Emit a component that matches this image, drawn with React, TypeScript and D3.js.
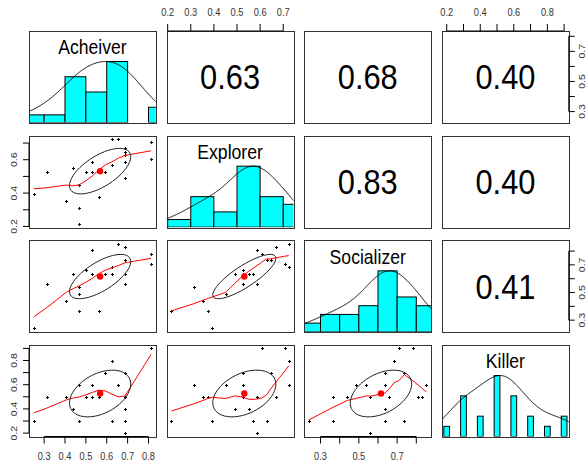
import * as d3 from 'd3';

// 22 respondents, values
const acheiver = [0.25, 0.3125, 0.40625, 0.4375, 0.46875, 0.46875, 0.46875, 0.5, 0.53125, 0.53125, 0.5625,
  0.59375, 0.625, 0.625, 0.65625, 0.6875, 0.6875, 0.6875, 0.6875, 0.8125, 0.8125, 0.6875];
const explorer = [0.393, 0.525, 0.353, 0.55, 0.451, 0.313, 0.216, 0.525, 0.588, 0.528, 0.374,
  0.528, 0.724, 0.569, 0.724, 0.67, 0.628, 0.588, 0.49, 0.707, 0.607, 0.645];
const socializer = [0.24, 0.56, 0.439, 0.637, 0.487, 0.54, 0.365, 0.66, 0.81, 0.637, 0.365,
  0.637, 0.684, 0.637, 0.853, 0.828, 0.738, 0.56, 0.637, 0.709, 0.781, 0.738];
const killer = [0.3, 0.5, 0.5, 0.4, 0.6, 0.6, 0.3, 0.5, 0.5, 0.6, 0.5,
  0.7, 0.8, 0.3, 0.6, 0.5, 0.3, 0.2, 0.4, 0.9, 0.9, 0.7];

const varNames = ['Acheiver', 'Explorer', 'Socializer', 'Killer'];
// upper triangle, row by row
const correlations = [0.63, 0.68, 0.40, 0.83, 0.40, 0.41];

const acheiverTicks = [0.3, 0.4, 0.5, 0.6, 0.7, 0.8];
const explorerTicks = [0.2, 0.3, 0.4, 0.5, 0.6, 0.7];
const socializerTicks = [0.3, 0.4, 0.5, 0.6, 0.7, 0.8];
const killerTicks = [0.2, 0.3, 0.4, 0.5, 0.6, 0.7, 0.8, 0.9];

const acheiverBottomLabels = ['0.3', '0.4', '0.5', '0.6', '0.7', '0.8'];
const acheiverRightLabels = ['0.3', '0.5', '0.7'];
const explorerTopLabels = ['0.2', '0.3', '0.4', '0.5', '0.6', '0.7'];
const explorerLeftLabels = ['0.2', '0.4', '0.6'];
const socializerBottomLabels = ['0.3', '0.5', '0.7'];
const socializerRightLabels = ['0.3', '0.5', '0.7'];
const killerTopLabels = ['0.2', '0.4', '0.6', '0.8'];
const killerLeftLabels = ['0.2', '0.4', '0.6', '0.8'];

const vars = [acheiver, explorer, socializer, killer];

const W = 588, H = 463;
const PW = 126.8, PH = 91.5;
const colX = (j: number) => 29 + j * 137.67;
const rowY = (i: number) => 31 + i * 104.67;
const FONT = 'Liberation Sans, Arial, sans-serif';
const SX = 0.88; // the reference text is a bit narrow

const padded = (v: number[]) => {
  const [lo, hi] = d3.extent(v) as [number, number];
  const d = (hi - lo) * 0.04;
  return [lo - d, hi + d];
};
const xScale = (k: number, j: number) => d3.scaleLinear().domain(padded(vars[k])).range([colX(j), colX(j) + PW]);
const yScale = (k: number, i: number) => d3.scaleLinear().domain(padded(vars[k])).range([rowY(i) + PH, rowY(i)]);

// R's lowess (clowess)
function lowest(x: number[], y: number[], n: number, xs: number, nleft: number, nright: number,
  w: number[], userw: boolean, rw: number[]) {
  const range = x[n - 1] - x[0];
  const h = Math.max(xs - x[nleft], x[nright] - xs);
  const h9 = 0.999 * h, h1 = 0.001 * h;
  let a = 0;
  let j = nleft;
  while (j < n) {
    w[j] = 0;
    const r = Math.abs(x[j] - xs);
    if (r <= h9) {
      w[j] = r <= h1 ? 1 : Math.pow(1 - Math.pow(r / h, 3), 3);
      if (userw) w[j] *= rw[j];
      a += w[j];
    } else if (x[j] > xs) break;
    j++;
  }
  const nrt = j - 1;
  if (a <= 0) return { ys: 0, ok: false };
  for (j = nleft; j <= nrt; j++) w[j] /= a;
  if (h > 0) {
    a = 0;
    for (j = nleft; j <= nrt; j++) a += w[j] * x[j];
    let b = xs - a;
    let c = 0;
    for (j = nleft; j <= nrt; j++) c += w[j] * (x[j] - a) * (x[j] - a);
    if (Math.sqrt(c) > 0.001 * range) {
      b /= c;
      for (j = nleft; j <= nrt; j++) w[j] *= b * (x[j] - a) + 1;
    }
  }
  let ys = 0;
  for (j = nleft; j <= nrt; j++) ys += w[j] * y[j];
  return { ys, ok: true };
}

function lowess(xIn: number[], yIn: number[], f = 2 / 3, iter = 3) {
  const order = d3.range(xIn.length).sort((a, b) => xIn[a] - xIn[b]);
  const x = order.map(i => xIn[i]);
  const y = order.map(i => yIn[i]);
  const n = x.length;
  const delta = 0.01 * (x[n - 1] - x[0]);
  const ns = Math.max(2, Math.min(n, Math.floor(f * n + 1e-7)));
  const ys = new Array(n).fill(0);
  const rw = new Array(n).fill(1);
  const res = new Array(n).fill(0);
  for (let it = 1; it <= iter + 1; it++) {
    let nleft = 0, nright = ns - 1, last = -1, i = 0;
    for (;;) {
      if (nright < n - 1) {
        const d1 = x[i] - x[nleft], d2 = x[nright + 1] - x[i];
        if (d1 > d2) { nleft++; nright++; continue; }
      }
      const out = lowest(x, y, n, x[i], nleft, nright, res, it > 1, rw);
      ys[i] = out.ok ? out.ys : y[i];
      if (last < i - 1) {
        const denom = x[i] - x[last];
        for (let j = last + 1; j < i; j++) {
          const alpha = (x[j] - x[last]) / denom;
          ys[j] = alpha * ys[i] + (1 - alpha) * ys[last];
        }
      }
      last = i;
      const cut = x[last] + delta;
      for (i = last + 1; i < n; i++) {
        if (x[i] > cut) break;
        if (x[i] === x[last]) { ys[i] = ys[last]; last = i; }
      }
      i = Math.max(last + 1, i - 1);
      if (last >= n - 1) break;
    }
    for (let k = 0; k < n; k++) res[k] = y[k] - ys[k];
    const sc = d3.sum(res, r => Math.abs(r)) / n;
    if (it > iter) break;
    const cmad = 6 * (d3.median(res.map(r => Math.abs(r))) as number);
    if (cmad < 1e-7 * sc) break;
    const c9 = 0.999 * cmad, c1 = 0.001 * cmad;
    for (let k = 0; k < n; k++) {
      const r = Math.abs(res[k]);
      rw[k] = r <= c1 ? 1 : r > c9 ? 0 : Math.pow(1 - (r / cmad) * (r / cmad), 2);
    }
  }
  return x.map((xv, k) => [xv, ys[k]] as [number, number]);
}

function density(v: number[]) {
  const n = v.length;
  const sorted = [...v].sort(d3.ascending);
  const sd = d3.deviation(v) as number;
  const iqr = (d3.quantileSorted(sorted, 0.75) as number) - (d3.quantileSorted(sorted, 0.25) as number);
  let lo = Math.min(sd, iqr / 1.34);
  if (!(lo > 0)) lo = sd;
  const bw = 1.2 * 1.06 * lo * Math.pow(n, -0.2);
  const from = (d3.min(v) as number) - 3 * bw, to = (d3.max(v) as number) + 3 * bw;
  const pts = d3.range(512).map(k => {
    const xx = from + (to - from) * k / 511;
    return [xx, d3.sum(v, xi => Math.exp(-0.5 * ((xx - xi) / bw) ** 2))] as [number, number];
  });
  const m = d3.max(pts, p => p[1]) as number;
  return pts.map(([xx, yy]) => [xx, yy / m] as [number, number]);
}

function histBars(v: number[]) {
  const uniq = Array.from(new Set(v)).sort(d3.ascending);
  if (uniq.length < 11) {
    const counts = uniq.map(u => v.filter(d => d === u).length);
    const mx = d3.max(counts) as number;
    const gaps = d3.pairs(uniq).map(([a, b]) => b - a);
    const ib = (d3.min(gaps) as number) * (uniq.length - 1) / 41;
    return uniq.map((u, k) => ({ x0: u - ib, x1: u + ib, h: counts[k] / mx }));
  }
  const ext = d3.extent(v) as [number, number];
  const [a, b] = d3.nice(ext[0], ext[1], 6);
  const breaks = d3.ticks(a, b, 6);
  const counts = d3.range(breaks.length - 1).map(() => 0);
  v.forEach(d => {
    const k = breaks.findIndex((br, idx) => idx > 0 && d <= br + 1e-9);
    counts[k - 1]++;
  });
  const mx = d3.max(counts) as number;
  return counts.map((c, k) => ({ x0: breaks[k], x1: breaks[k + 1], h: c / mx }));
}

function pearson(a: number[], b: number[]) {
  const ma = d3.mean(a) as number, mb = d3.mean(b) as number;
  let sab = 0, saa = 0, sbb = 0;
  a.forEach((v, i) => { sab += (v - ma) * (b[i] - mb); saa += (v - ma) ** 2; sbb += (b[i] - mb) ** 2; });
  return sab / Math.sqrt(saa * sbb);
}

const Txt = ({ x, y, size, anchor = 'middle', rotate = false, fill = '#000', children }: any) => (
  <text transform={`translate(${x},${y}) ${rotate ? `rotate(-90) scale(1,${SX})` : `scale(${SX},1)`}`}
    fontFamily={FONT} fontSize={size} textAnchor={anchor} fill={fill}>{children}</text>
);

function Diag({ k }: { k: number }) {
  const v = vars[k];
  const x = xScale(k, k);
  const y = d3.scaleLinear().domain([0, 1.5]).range([rowY(k) + PH, rowY(k)]);
  const bars = histBars(v);
  const dens = density(v);
  const line = d3.line<[number, number]>().x(d => x(d[0])).y(d => y(d[1]));
  return (
    <g>
      <g clipPath={`url(#clip${k}${k})`}>
        {bars.map((b, n) => b.h > 0 && (
          <rect key={n} x={x(b.x0)} y={y(b.h)} width={x(b.x1) - x(b.x0)} height={y(0) - y(b.h)}
            fill="#00ffff" stroke="#000" strokeWidth={1} />
        ))}
        <path d={line(dens) as string} fill="none" stroke="#000" strokeWidth={1} />
      </g>
      <Txt x={colX(k) + PW / 2} y={rowY(k) + PH * 0.18 + 7} size={20}>{varNames[k]}</Txt>
    </g>
  );
}

function Scatter({ i, j }: { i: number, j: number }) {
  const xv = vars[j], yv = vars[i];
  const x = xScale(j, j), y = yScale(i, i);
  const smooth = lowess(xv, yv);
  const line = d3.line<[number, number]>().x(d => x(d[0])).y(d => y(d[1]));
  const xm = d3.mean(xv) as number, ym = d3.mean(yv) as number;
  const xs = d3.deviation(xv) as number, ys = d3.deviation(yv) as number;
  const r = pearson(xv, yv);
  const th = Math.sign(r) / Math.SQRT2;
  const ell = d3.range(52).map(s => {
    const ang = s * 2 * Math.PI / 51;
    const c = Math.cos(ang), sn = Math.sin(ang);
    const ex = c * Math.sqrt(1 + r) * th - sn * Math.sqrt(1 - r) * th;
    const ey = c * Math.sqrt(1 + r) * th + sn * Math.sqrt(1 - r) * th;
    return [ex * xs + xm, ey * ys + ym] as [number, number];
  });
  return (
    <g clipPath={`url(#clip${i}${j})`}>
      {xv.map((d, n) => {
        const px = Math.round(x(d)) + 0.5, py = Math.round(y(yv[n])) + 0.5;
        return <path key={n} d={`M${px - 1.5},${py}h3M${px},${py - 1.5}v3`} stroke="#000" strokeWidth={1} />;
      })}
      <path d={line(smooth) as string} fill="none" stroke="#ff0000" strokeWidth={1} />
      <path d={line(ell) as string} fill="none" stroke="#222" strokeWidth={1} />
      <circle cx={x(xm)} cy={y(ym)} r={3.2} fill="#ff0000" />
    </g>
  );
}

function Axis({ side, k, pos, ticks, labels }: { side: string, k: number, pos: number, ticks: number[], labels: string[] }) {
  const horiz = side === 'top' || side === 'bottom';
  const s = horiz ? xScale(k, pos) : yScale(k, pos);
  const tl = horiz ? 7 : 6;
  const fs = 10.5;
  const col = '#333';
  const items: any[] = [];
  if (side === 'top') {
    const y0 = rowY(0);
    items.push(<line key="ax" x1={s(ticks[0])} x2={s(ticks[ticks.length - 1])} y1={y0} y2={y0} stroke="#000" />);
    ticks.forEach((t, n) => items.push(<line key={'t' + n} x1={s(t)} x2={s(t)} y1={y0} y2={y0 - tl} stroke="#000" />));
    labels.forEach(l => items.push(<Txt key={'l' + l} x={s(+l)} y={15.5} size={fs} fill={col}>{l}</Txt>));
  } else if (side === 'bottom') {
    const y0 = rowY(3) + PH;
    items.push(<line key="ax" x1={s(ticks[0])} x2={s(ticks[ticks.length - 1])} y1={y0} y2={y0} stroke="#000" />);
    ticks.forEach((t, n) => items.push(<line key={'t' + n} x1={s(t)} x2={s(t)} y1={y0} y2={y0 + tl} stroke="#000" />));
    labels.forEach(l => items.push(<Txt key={'l' + l} x={s(+l)} y={459.5} size={fs} fill={col}>{l}</Txt>));
  } else if (side === 'left') {
    const x0 = colX(0);
    items.push(<line key="ax" y1={s(ticks[0])} y2={s(ticks[ticks.length - 1])} x1={x0} x2={x0} stroke="#000" />);
    ticks.forEach((t, n) => items.push(<line key={'t' + n} y1={s(t)} y2={s(t)} x1={x0} x2={x0 - tl} stroke="#000" />));
    labels.forEach(l => items.push(<Txt key={'l' + l} x={16.5} y={s(+l)} size={fs} fill={col} rotate>{l}</Txt>));
  } else {
    const x0 = colX(3) + PW;
    items.push(<line key="ax" y1={s(ticks[0])} y2={s(ticks[ticks.length - 1])} x1={x0} x2={x0} stroke="#000" />);
    ticks.forEach((t, n) => items.push(<line key={'t' + n} y1={s(t)} y2={s(t)} x1={x0} x2={x0 + tl} stroke="#000" />));
    labels.forEach(l => items.push(<Txt key={'l' + l} x={584.5} y={s(+l)} size={fs} fill={col} rotate>{l}</Txt>));
  }
  return <g>{items}</g>;
}

export default function App() {
  const cells: any[] = [];
  let c = 0;
  for (let i = 0; i < 4; i++) {
    for (let j = 0; j < 4; j++) {
      if (i === j) cells.push(<Diag key={`d${i}`} k={i} />);
      else if (i > j) cells.push(<Scatter key={`s${i}${j}`} i={i} j={j} />);
      else {
        const val = correlations[c++];
        cells.push(
          <Txt key={`c${i}${j}`} x={colX(j) + PW / 2} y={rowY(i) + PH / 2 + 12.5} size={35}>{val.toFixed(2)}</Txt>
        );
      }
    }
  }
  return (
    <svg width={W} height={H} style={{ position: 'absolute', left: 0, top: 0, background: '#fff' }}>
      <defs>
        {d3.range(4).map(i => d3.range(4).map(j => (
          <clipPath key={`${i}${j}`} id={`clip${i}${j}`}>
            <rect x={colX(j)} y={rowY(i)} width={PW} height={PH} />
          </clipPath>
        )))}
      </defs>
      <rect width={W} height={H} fill="#fff" />
      {cells}
      {d3.range(4).map(i => d3.range(4).map(j => (
        <rect key={`b${i}${j}`} x={Math.round(colX(j)) + 0.5} y={Math.round(rowY(i)) + 0.5}
          width={Math.round(PW)} height={Math.round(PH)} fill="none" stroke="#333" strokeWidth={1} />
      )))}
      <Axis side="top" k={1} pos={1} ticks={explorerTicks} labels={explorerTopLabels} />
      <Axis side="top" k={3} pos={3} ticks={killerTicks} labels={killerTopLabels} />
      <Axis side="bottom" k={0} pos={0} ticks={acheiverTicks} labels={acheiverBottomLabels} />
      <Axis side="bottom" k={2} pos={2} ticks={socializerTicks} labels={socializerBottomLabels} />
      <Axis side="left" k={1} pos={1} ticks={explorerTicks} labels={explorerLeftLabels} />
      <Axis side="left" k={3} pos={3} ticks={killerTicks} labels={killerLeftLabels} />
      <Axis side="right" k={0} pos={0} ticks={acheiverTicks} labels={acheiverRightLabels} />
      <Axis side="right" k={2} pos={2} ticks={socializerTicks} labels={socializerRightLabels} />
    </svg>
  );
}
